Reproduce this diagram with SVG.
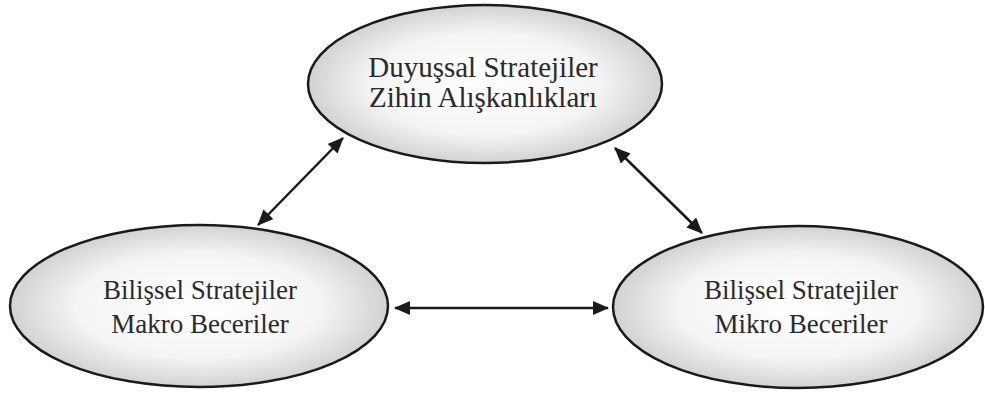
<svg xmlns="http://www.w3.org/2000/svg" width="985" height="396" viewBox="0 0 985 396">
  <defs>
    <radialGradient id="gfill" cx="50%" cy="50%" r="50%">
      <stop offset="0%" stop-color="#ffffff"/>
      <stop offset="65%" stop-color="#f4f4f4"/>
      <stop offset="100%" stop-color="#d2d2d2"/>
    </radialGradient>
    <marker id="ah" markerUnits="userSpaceOnUse" markerWidth="16" markerHeight="14" refX="15" refY="7" orient="auto-start-reverse">
      <path d="M0,0 L16,7 L0,14 z" fill="#1a1a1a"/>
    </marker>
  </defs>
  <style>
    .node ellipse { fill: url(#gfill); stroke: #1a1a1a; stroke-width: 2.5; }
    .node text { font-family: "Liberation Serif", "DejaVu Serif", serif; fill: #2a2a2a; text-anchor: middle; }
    .conn line { stroke: #1a1a1a; stroke-width: 2.5; marker-start: url(#ah); marker-end: url(#ah); }
  </style>
  <rect width="985" height="396" fill="#ffffff"/>
  <g id="node-duyussal" class="node">
    <ellipse cx="485" cy="84" rx="177" ry="79"/>
    <text x="483" y="77" font-size="29">Duyuşsal Stratejiler</text>
    <text x="483" y="107" font-size="29">Zihin Alışkanlıkları</text>
  </g>
  <g id="node-makro" class="node">
    <ellipse cx="199" cy="306" rx="189" ry="81"/>
    <text x="200" y="299" font-size="27">Bilişsel Stratejiler</text>
    <text x="200" y="333" font-size="27">Makro Beceriler</text>
  </g>
  <g id="node-mikro" class="node">
    <ellipse cx="798" cy="307" rx="185" ry="81"/>
    <text x="801" y="299" font-size="27">Bilişsel Stratejiler</text>
    <text x="801" y="333" font-size="27">Mikro Beceriler</text>
  </g>
  <g id="connectors" class="conn">
    <line x1="258" y1="225" x2="343" y2="138"/>
    <line x1="615" y1="148" x2="702" y2="233"/>
    <line x1="395" y1="308" x2="608" y2="308"/>
  </g>
</svg>
